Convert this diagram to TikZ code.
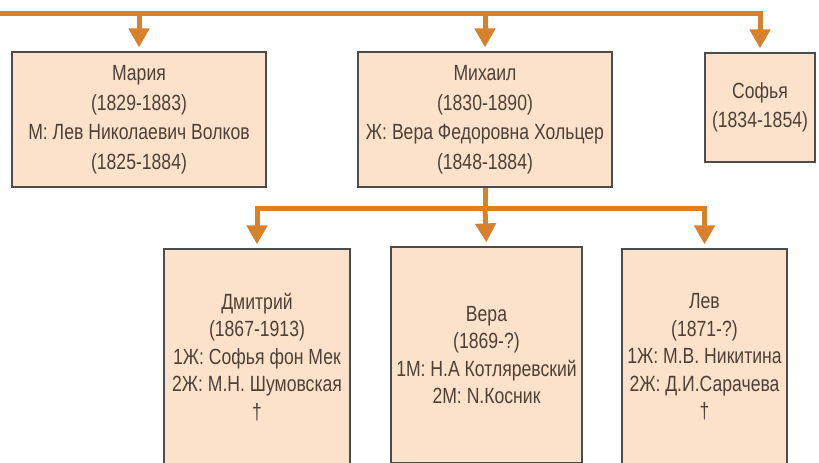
\documentclass[tikz,border=0pt]{standalone}
\usepackage{fontspec}
\setmainfont{Liberation Sans}[FakeStretch=0.8]
\usetikzlibrary{arrows.meta}
\definecolor{boxfill}{HTML}{FCE2CB}
\definecolor{boxline}{HTML}{4C4C4C}
\definecolor{txt}{HTML}{4F4036}
\definecolor{orng}{HTML}{D8812C}
\tikzset{
  person/.style={draw=boxline, fill=boxfill, line width=2.2pt, inner sep=0pt,
    align=center, text=txt, font=\fontsize{22}{29.5}\selectfont},
  lower/.style={person, font=\fontsize{22}{27.5}\selectfont},
  link/.style={draw=orng, line width=5pt},
  conn/.style={link, -{Triangle[width=20pt,length=19pt]}, shorten >=3.5pt}
}
\begin{document}
\begin{tikzpicture}[x=1pt,y=-1pt]
\useasboundingbox (0,0) rectangle (819,463);
\clip (0,0) rectangle (819,463);
\fill[white] (0,0) rectangle (819,463);
% first generation
\node[person, minimum width=254pt, minimum height=135pt] (maria) at (139,119.5)
  {Мария\\(1829-1883)\\М: Лев Николаевич Волков\\(1825-1884)};
\node[person, minimum width=254pt, minimum height=135pt] (mikhail) at (485,119.5)
  {Михаил\\(1830-1890)\\Ж: Вера Федоровна Хольцер\\(1848-1884)};
\node[person, minimum width=110pt, minimum height=109pt] (sofya) at (760,107.5)
  {Софья\\(1834-1854)};
% second generation
\node[lower, minimum width=186pt, minimum height=216pt] (dmitry) at (257,357)
  {Дмитрий\\(1867-1913)\\1Ж: Софья фон Мек\\2Ж: М.Н. Шумовская\\†};
\node[lower, minimum width=191pt, minimum height=216pt] (vera) at (486.5,355)
  {Вера\\(1869-?)\\1М: Н.А Котляревский\\2М: N.Косник};
\node[lower, minimum width=165pt, minimum height=216pt] (lev) at (704.5,357)
  {Лев\\(1871-?)\\1Ж: М.В. Никитина\\2Ж: Д.И.Сарачева\\†};
% connectors, top level
\coordinate (tl) at (-5,13);
\coordinate (mj) at (485,208);
\draw[conn] (tl) -| (sofya.north);
\draw[conn] (maria.north |- tl) -- (maria.north);
\draw[conn] (mikhail.north |- tl) -- (mikhail.north);
% connectors, from Mikhail
\draw[link] (mikhail.south) -- (mj);
\draw[conn] (mj) -| (dmitry.north);
\draw[conn] (mj) -| (lev.north);
\draw[conn] (mj) -- (vera.north);
\end{tikzpicture}
\end{document}
